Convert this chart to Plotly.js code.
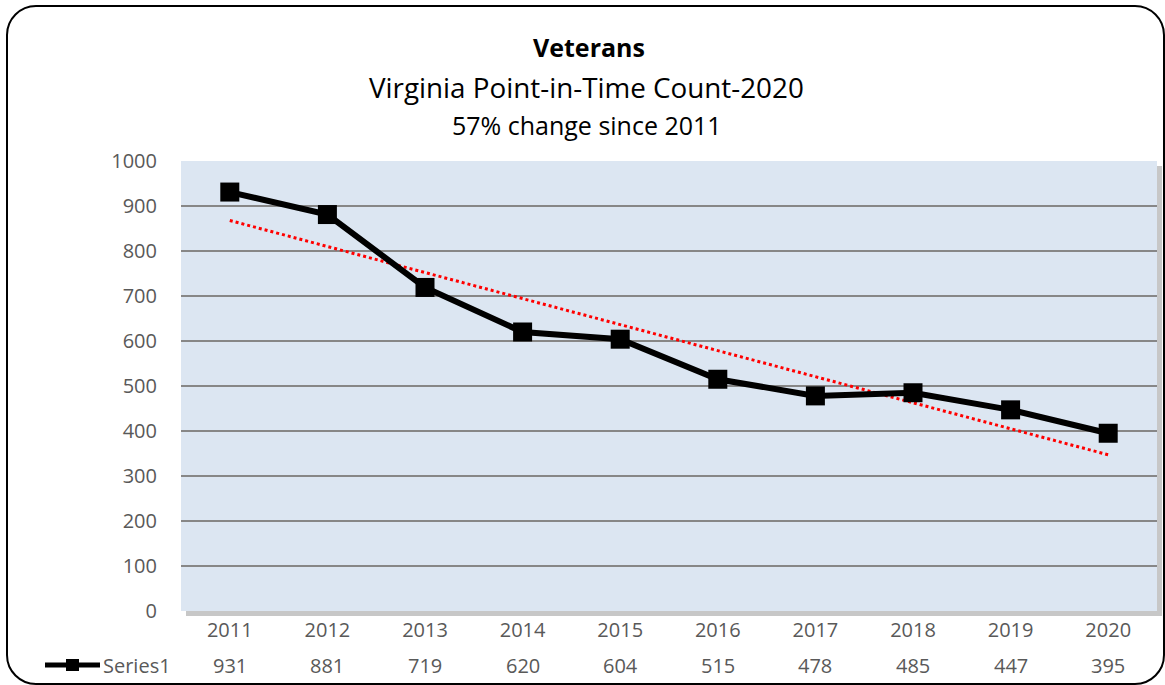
<!DOCTYPE html>
<html><head><meta charset="utf-8">
<script src="https://cdn.plot.ly/plotly-3.0.1.min.js"></script>
<style>
html,body{margin:0;padding:0;background:#fff;}
#wrap{position:relative;width:1165px;height:685px;}
#chart{position:absolute;left:0;top:0;width:1165px;height:685px;}
#frame{position:absolute;left:6px;top:5px;width:1155px;height:676px;border:2px solid #000;border-radius:30px;pointer-events:none;}
</style></head>
<body>
<div id="wrap"><div id="chart"></div><div id="frame"></div></div>
<script>
var years = ['2011','2012','2013','2014','2015','2016','2017','2018','2019','2020'];
var series1 = [931, 881, 719, 620, 604, 515, 478, 485, 447, 395];
var seriesName = 'Series1';
var yTicks = [0,100,200,300,400,500,600,700,800,900,1000];

// linear trendline (least squares) computed from series1
var n = series1.length, sx=0, sy=0, sxy=0, sxx=0;
for (var i=0;i<n;i++){ var xi=i+1; sx+=xi; sy+=series1[i]; sxy+=xi*series1[i]; sxx+=xi*xi; }
var slope = (n*sxy - sx*sy)/(n*sxx - sx*sx);
var icpt = (sy - slope*sx)/n;
var trend = series1.map(function(_,i){ return icpt + slope*(i+1); });

var FONT = '"Open Sans", sans-serif';
var GRAY = '#595959';

var traces = [
  {x: years, y: trend, type:'scatter', mode:'lines', line:{color:'#ff0000', width:3, dash:'dot'}, hoverinfo:'skip', showlegend:false},
  {x: years, y: series1, type:'scatter', mode:'lines+markers', name: seriesName,
   line:{color:'#000', width:6}, marker:{symbol:'square', size:19, color:'#000'}, showlegend:false}
];

var annotations = [
  {text:'<b>Veterans</b>', xref:'paper', yref:'paper', x:(589-181)/976, y:(611-47)/450, showarrow:false, font:{family:FONT, size:25, color:'#000'}, xanchor:'center', yanchor:'middle'},
  {text:'Virginia Point-in-Time Count-2020', xref:'paper', yref:'paper', x:(586-181)/976, y:(611-87)/450, showarrow:false, font:{family:FONT, size:27.8, color:'#000'}, xanchor:'center', yanchor:'middle'},
  {text:'57% change since 2011', xref:'paper', yref:'paper', x:(587-181)/976, y:(611-125)/450, showarrow:false, font:{family:FONT, size:25, color:'#000'}, xanchor:'center', yanchor:'middle'},
  {text:seriesName, xref:'paper', yref:'paper', x:(101-181)/976, y:(611-665)/450, showarrow:false, font:{family:FONT, size:20, color:GRAY}, xanchor:'left', yanchor:'middle'}
];
years.forEach(function(yr,i){
  annotations.push({text:String(series1[i]), x:i, xref:'x', yref:'paper', y:(611-665)/450, showarrow:false,
    font:{family:FONT, size:20, color:GRAY}, xanchor:'center', yanchor:'middle'});
});

var shapes = [
  {type:'rect', xref:'paper', yref:'paper', x0:5/976, x1:1+5/976, y0:-5/450, y1:1-5/450, fillcolor:'rgba(0,0,0,0.22)', line:{width:0}, layer:'below'},
  {type:'rect', xref:'paper', yref:'paper', x0:0, x1:1, y0:0, y1:1, fillcolor:'#dce6f2', line:{width:0}, layer:'below'},
  {type:'line', xref:'paper', yref:'paper', x0:(45-181)/976, x1:(100-181)/976, y0:(611-665)/450, y1:(611-665)/450, line:{color:'#000', width:5}},
  {type:'rect', xref:'paper', yref:'paper', x0:(66-181)/976, x1:(79-181)/976, y0:(611-671)/450, y1:(611-659)/450, fillcolor:'#000', line:{width:0}}
];

var layout = {
  width:1165, height:685,
  margin:{l:181, r:8, t:161, b:74, pad:0},
  paper_bgcolor:'#ffffff', plot_bgcolor:'rgba(0,0,0,0)',
  showlegend:false,
  xaxis:{type:'category', categoryorder:'array', categoryarray:years, range:[-0.5, years.length-0.5], autorange:false,
    showgrid:false, zeroline:false, showline:false, ticks:'',
    tickfont:{family:FONT, size:20, color:GRAY}, ticklabelstandoff:5, fixedrange:true},
  yaxis:{range:[0,1000], autorange:false, tickvals:yTicks, showgrid:true, gridcolor:'#878787', gridwidth:2, zeroline:false, showline:false, ticks:'',
    tickfont:{family:FONT, size:20, color:GRAY}, ticklabelstandoff:23, fixedrange:true},
  annotations:annotations,
  shapes:shapes
};
Plotly.newPlot('chart', traces, layout, {displayModeBar:false, staticPlot:true});
</script>
</body></html>
